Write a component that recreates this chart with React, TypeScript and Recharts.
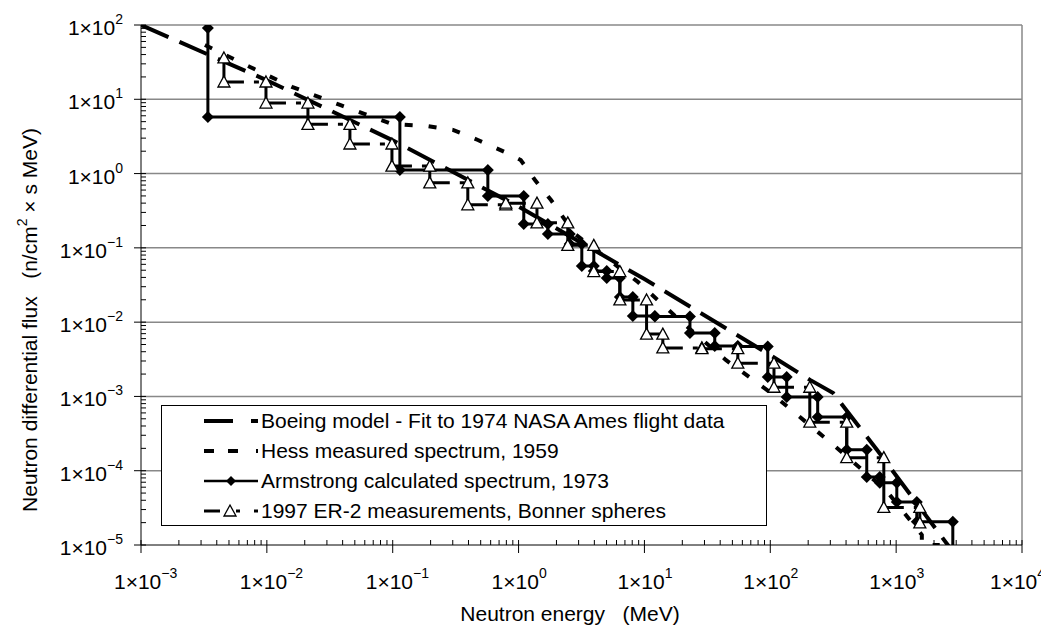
import React from 'react';
import { LineChart, Line, XAxis, YAxis, ReferenceLine, Legend } from 'recharts';

const FONT = "'Liberation Sans', Arial, sans-serif";

// Boeing model - fit to 1974 NASA Ames flight data
const boeingEnergy = [0.001, 0.01, 0.1, 1, 10, 100, 207, 316, 706, 2840];
const boeingFlux = [100, 18, 2.8, 0.36, 0.038, 0.0036, 0.00167, 0.00111, 0.00019, 0.000008];

// Hess measured spectrum, 1959
const hessEnergy = [0.00322, 0.00735, 0.0158, 0.0381, 0.0986, 0.187, 0.301, 0.475, 0.778, 1.04, 1.35, 1.81, 2.8, 8.87, 20.6, 44.3, 99, 297, 827, 1600, 1600, 2220];
const hessFlux = [53.8, 27.2, 14.7, 8.4, 4.65, 4.37, 3.87, 2.83, 1.95, 1.52, 0.82, 0.44, 0.154, 0.0348, 0.00946, 0.0031, 0.00115, 0.000244, 0.000055, 0.0000137, 0.00001, 0.00001];

// Armstrong calculated spectrum, 1973 (bin edges and step levels)
const armEnergy = [0.0034, 0.114, 0.57, 1.1, 1.71, 2.55, 3.18, 3.96, 5.02, 6.38, 8.09, 12.1, 23, 36.2, 55.2, 95.5, 135, 238, 405, 584, 741, 1012, 1459, 2820];
const armFlux = [91, 5.78, 1.12, 0.5, 0.21, 0.154, 0.113, 0.057, 0.0489, 0.0394, 0.0218, 0.0121, 0.0119, 0.00716, 0.00479, 0.0047, 0.00183, 0.000984, 0.00053, 0.000191, 0.0000826, 0.0000686, 0.000038, 0.0000205, 0.000008];

// 1997 ER-2 measurements, Bonner spheres (bin edges and step levels)
const er2Energy = [0.00456, 0.00984, 0.0212, 0.0457, 0.0986, 0.197, 0.395, 0.792, 1.4, 2.46, 3.96, 6.38, 10.4, 14, 28.6, 55.2, 107, 206, 405, 798, 1542];
const er2Flux = [36, 17.1, 8.9, 4.6, 2.5, 1.26, 0.75, 0.38, 0.4, 0.217, 0.108, 0.048, 0.0199, 0.0069, 0.0045, 0.0044, 0.0028, 0.00133, 0.00045, 0.00015, 0.000032, 0.0000198];

const xDecades = [-3, -2, -1, 0, 1, 2, 3, 4];
const yDecades = [-5, -4, -3, -2, -1, 0, 1, 2];
const minorSteps = [1, 2, 3, 4, 5, 6, 7, 8, 9];

const logTicks = (decades: number[]) => {
  const out: number[] = [];
  decades.forEach((d, i) => {
    if (i === decades.length - 1) out.push(Math.pow(10, d));
    else minorSteps.forEach((m) => out.push(m * Math.pow(10, d)));
  });
  return out;
};
const xTicks = logTicks(xDecades);
const yTicks = logTicks(yDecades);

const boeingData = boeingEnergy.map((e, i) => ({ e, f: boeingFlux[i] }));
const hessData = hessEnergy.map((e, i) => ({ e, f: hessFlux[i] }));

const armData: { e: number; f: number | null }[] = [];
armEnergy.forEach((e, i) => {
  armData.push({ e, f: armFlux[i] });
  armData.push({ e, f: armFlux[i + 1] });
});

// ER-2: vertical parts solid, horizontal parts dashed; each segment its own subpath
const er2Vert: { e: number; f: number | null }[] = [];
const er2Horiz: { e: number; f: number | null }[] = [];
er2Energy.forEach((e, i) => {
  er2Vert.push({ e, f: er2Flux[i] }, { e, f: er2Flux[i + 1] }, { e, f: null });
  if (i < er2Energy.length - 1) {
    er2Horiz.push({ e, f: er2Flux[i + 1] }, { e: er2Energy[i + 1], f: er2Flux[i + 1] }, { e: er2Energy[i + 1], f: null });
  }
});

const isMajor = (v: number) => {
  const p = Math.log10(v);
  return Math.abs(p - Math.round(p)) < 1e-6;
};

const expText = (n: number) => (n < 0 ? `\u2212${-n}` : `${n}`);

const XTick = (props: any) => {
  const { x, y, payload } = props;
  if (!isMajor(payload.value)) return <line x1={x} x2={x} y1={y} y2={y - 5} stroke="#000" />;
  const n = Math.round(Math.log10(payload.value));
  const shift = n === 4 ? 32 : 27;
  return (
    <g>
      <line x1={x} x2={x} y1={y - 5} y2={y + 8} stroke="#000" />
      <text x={x - shift} y={y + 44} fontSize={21} fontFamily={FONT} fill="#000">
        1×10<tspan dy={-11} fontSize={14}>{expText(n)}</tspan>
      </text>
    </g>
  );
};

const YTick = (props: any) => {
  const { x, y, payload } = props;
  if (!isMajor(payload.value)) return <line x1={x} x2={x + 5} y1={y} y2={y} stroke="#000" />;
  const n = Math.round(Math.log10(payload.value));
  return (
    <g>
      <line x1={x - 7} x2={x + 5} y1={y} y2={y} stroke="#000" />
      <text x={x - 18} y={y + 10} fontSize={21} fontFamily={FONT} textAnchor="end" fill="#000">
        1×10<tspan dy={-11} fontSize={14}>{expText(n)}</tspan>
      </text>
    </g>
  );
};

const diamondDot = (props: any) => {
  const { cx, cy, value, index } = props;
  if (cx == null || cy == null || value == null || value < 1e-5) return <g key={`ad${index}`} />;
  return <path key={`ad${index}`} d={`M${cx},${cy - 6}L${cx + 6},${cy}L${cx},${cy + 6}L${cx - 6},${cy}Z`} fill="#000" />;
};

const triangleDot = (props: any) => {
  const { cx, cy, value, index } = props;
  if (cx == null || cy == null || value == null) return <g key={`td${index}`} />;
  return <path key={`td${index}`} d={`M${cx},${cy - 6}L${cx + 6},${cy + 5}L${cx - 6},${cy + 5}Z`} fill="#fff" stroke="#000" strokeWidth={1.3} />;
};

const legendRows = [
  'Boeing model - Fit to 1974 NASA Ames flight data',
  'Hess measured spectrum, 1959',
  'Armstrong calculated spectrum, 1973',
  '1997 ER-2 measurements, Bonner spheres',
];

const LegendSample = ({ i }: { i: number }) => (
  <svg width={99} height={30} style={{ display: 'block', flex: 'none' }}>
    {i === 0 && (
      <g stroke="#000" strokeWidth={4}>
        <line x1={42} x2={71} y1={15} y2={15} />
        <line x1={89} x2={96} y1={15} y2={15} />
      </g>
    )}
    {i === 1 && (
      <g stroke="#000" strokeWidth={4}>
        <line x1={42} x2={52} y1={15} y2={15} />
        <line x1={66} x2={76} y1={15} y2={15} />
        <line x1={94} x2={96} y1={15} y2={15} />
      </g>
    )}
    {i === 2 && (
      <g>
        <line x1={42} x2={96} y1={15} y2={15} stroke="#000" strokeWidth={2.5} />
        <path d="M69,10L74,15L69,20L64,15Z" fill="#000" />
      </g>
    )}
    {i === 3 && (
      <g>
        <line x1={42} x2={58} y1={15} y2={15} stroke="#000" strokeWidth={3} />
        <line x1={74} x2={78} y1={15} y2={15} stroke="#000" strokeWidth={3} />
        <line x1={92} x2={96} y1={15} y2={15} stroke="#000" strokeWidth={3} />
        <path d="M68,9L74,20L62,20Z" fill="#fff" stroke="#000" strokeWidth={1.3} />
      </g>
    )}
  </svg>
);

const LegendBox = () => (
  <div style={{ width: 604, height: 119, border: '1px solid #000', background: '#fff', fontFamily: FONT, fontSize: 21, color: '#000' }}>
    {legendRows.map((t, i) => (
      <div key={t} style={{ display: 'flex', alignItems: 'center', height: 30 }}>
        <LegendSample i={i} />
        <span style={{ whiteSpace: 'nowrap' }}>{t}</span>
      </div>
    ))}
  </div>
);

const XTitle = () => (
  <text x={562} y={613} textAnchor="middle" fontSize={21} fontFamily={FONT} fill="#000" style={{ whiteSpace: 'pre' }}>
    {'Neutron energy   (MeV)'}
  </text>
);

const YTitle = () => {
  const cx = 29;
  const cy = 312;
  return (
    <text x={cx} y={cy} transform={`rotate(-90 ${cx} ${cy})`} textAnchor="middle" fontSize={21} fontFamily={FONT} fill="#000" style={{ whiteSpace: 'pre' }}>
      {'Neutron differential flux   (n/cm'}
      <tspan dy={-10} fontSize={14}>2</tspan>
      <tspan dy={10}>{' × s MeV)'}</tspan>
    </text>
  );
};

const App = () => {
  return (
    <div style={{ width: 1041, height: 621, position: 'relative', fontFamily: FONT }}>
      <LineChart width={1041} height={621} margin={{ top: 17, right: 27, left: 0, bottom: 0 }}>
        <XAxis
          dataKey="e"
          type="number"
          scale="log"
          domain={[0.001, 10000]}
          allowDataOverflow
          ticks={xTicks}
          interval={0}
          tick={<XTick />}
          tickLine={false}
          tickSize={0}
          tickMargin={0}
          axisLine={{ stroke: '#000' }}
          height={84}
          label={<XTitle />}
        />
        <YAxis
          type="number"
          scale="log"
          domain={[0.00001, 100]}
          allowDataOverflow
          ticks={yTicks}
          interval={0}
          tick={<YTick />}
          tickLine={false}
          tickSize={0}
          tickMargin={0}
          axisLine={{ stroke: '#000' }}
          width={133}
          label={<YTitle />}
        />
        {yDecades.slice(1).map((d) => (
          <ReferenceLine key={d} y={Math.pow(10, d)} stroke="#888" strokeWidth={1.5} />
        ))}
        <ReferenceLine x={10000} stroke="#888" strokeWidth={1.5} />
        <Line data={boeingData} dataKey="f" stroke="#000" strokeWidth={4} strokeDasharray="30 12" dot={false} isAnimationActive={false} />
        <Line data={hessData} dataKey="f" stroke="#000" strokeWidth={4} strokeDasharray="8 16" dot={false} isAnimationActive={false} />
        <Line data={armData} dataKey="f" stroke="#000" strokeWidth={3} dot={diamondDot} isAnimationActive={false} />
        <Line data={er2Horiz} dataKey="f" stroke="#000" strokeWidth={3} strokeDasharray="20 10 5 10" dot={false} isAnimationActive={false} />
        <Line data={er2Vert} dataKey="f" stroke="#000" strokeWidth={3} dot={triangleDot} isAnimationActive={false} />
        <Legend
          layout="horizontal"
          verticalAlign="middle"
          align="center"
          content={<LegendBox />}
          wrapperStyle={{ left: 153, top: 397, width: 606, height: 121 }}
        />
      </LineChart>
    </div>
  );
};

export default App;
